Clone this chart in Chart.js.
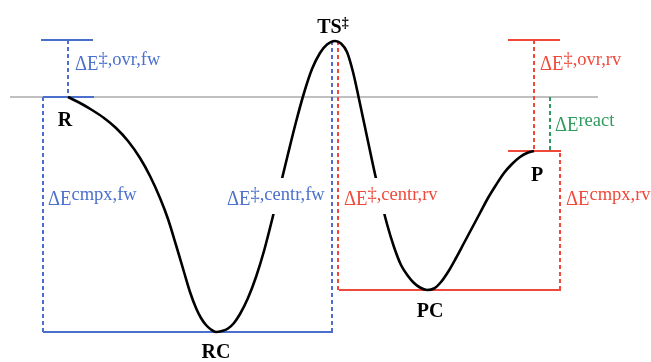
<!DOCTYPE html>
<html>
<head>
<meta charset="utf-8">
<script src="https://cdn.jsdelivr.net/npm/chart.js@4.4.1/dist/chart.umd.min.js"></script>
<style>
  html, body { margin: 0; padding: 0; background: #ffffff; }
  #wrap { width: 651px; height: 362px; position: relative; }
</style>
</head>
<body>
<div id="wrap"><canvas id="c"></canvas></div>
<script>
// ---- Data (energy in arbitrary units, R = 0; reaction coordinate in arbitrary units) ----
const stateNames = ['R', 'RC', 'TS‡', 'PC', 'P'];
const stateX = [68, 216, 335, 427, 534];
const stateE = [0, -235, 56, -193, -54];

// points read along the drawn energy profile (R -> RC -> TS -> PC -> P)
const curveX = [
  68, 80, 92, 104, 116, 128, 140, 150, 160, 168, 176, 184, 190, 196, 201, 206, 211,
  216, 222, 228, 234, 240, 248, 256, 264, 272, 280, 288, 296, 304, 312, 320, 327,
  335, 341, 347, 353, 359, 366, 373, 380, 387, 394, 401, 408, 414, 420,
  427, 434, 441, 448, 456, 464, 472, 480, 488, 496, 504, 512, 520, 527, 534
];
const curveE = [
  0, -6, -13, -21, -31, -44, -61, -79, -101, -122, -148, -175, -195, -211, -221, -228, -232.5,
  -235, -234, -231.5, -226, -217, -201, -180, -154, -123, -90, -57, -25, 4, 28, 44, 52.5,
  56, 53.5, 45, 25, -2, -35, -68, -99, -127, -150, -168, -179, -186, -190.5,
  -193, -191.5, -185, -175, -161, -146, -131, -116, -101, -88, -76, -67, -60, -56, -54
];

// energy differences shown (labels)
const deltaBase = ['ΔE', 'ΔE', 'ΔE', 'ΔE', 'ΔE', 'ΔE', 'ΔE'];
const deltaSup = ['‡,ovr,fw', 'cmpx,fw', '‡,centr,fw', '‡,centr,rv', '‡,ovr,rv', 'react', 'cmpx,rv'];

// ---- Layout / style ----
const BLUE = '#4a6fcc';
const RED = '#f0483a';
const GREEN = '#2e9a5c';
const GRAY = '#808080';
const SERIF = '"Liberation Serif", "DejaVu Serif", serif';
const DASH = [4, 3];
const MAIN_PX = 22, MAIN_SX = 0.85, SUP_PX = 18.5, SUP_RAISE = 5;

const iR = 0, iRC = 1, iTS = 2, iPC = 3, iP = 4;
const E = i => stateE[i];

// label placement (x, energy of text baseline) and style
const deltaLayout = [
  { x: 75,  e: 27,   color: BLUE,  bg: false },
  { x: 48,  e: -108, color: BLUE,  bg: false },
  { x: 227, e: -108, color: BLUE,  bg: true },
  { x: 344, e: -108, color: RED,   bg: true },
  { x: 540, e: 27,   color: RED,   bg: false },
  { x: 555, e: -34,  color: GREEN, bg: false },
  { x: 566, e: -108, color: RED,   bg: false }
];

const stateLabelOffset = [[-3, 24], [0, 21], [-2, -13], [3, 22], [3, 25]]; // px offsets of label centre

function seg(x1, e1, x2, e2, color, dashed, width) {
  return {
    data: [{ x: x1, y: e1 }, { x: x2, y: e2 }],
    showLine: true, pointRadius: 0, borderColor: color,
    borderWidth: width || 2, borderDash: dashed ? DASH : [], fill: false, tension: 0
  };
}

const datasets = [
  {
    data: curveX.map((x, i) => ({ x: x, y: curveE[i] })),
    showLine: true, pointRadius: 0, borderColor: '#000000', borderWidth: 2.6,
    cubicInterpolationMode: 'monotone', fill: false
  },
  // forward overall barrier
  seg(41, E(iTS) + 1, 93, E(iTS) + 1, BLUE, false, 2),
  seg(68, E(iTS) + 1, 68, E(iR), BLUE, true, 2),
  seg(43, E(iR), 94, E(iR), BLUE, false, 2),
  // forward complexation
  seg(43, E(iR), 43, E(iRC), BLUE, true, 2),
  seg(43, E(iRC), 333, E(iRC), BLUE, false, 2),
  // forward central barrier
  seg(332, E(iRC), 332, E(iTS) - 1, BLUE, true, 2),
  // reverse central barrier
  seg(338, E(iPC), 338, E(iTS) - 1, RED, true, 2),
  seg(339, E(iPC), 561, E(iPC), RED, false, 2),
  // reverse complexation
  seg(560, E(iPC), 560, E(iP), RED, true, 2),
  // reverse overall barrier
  seg(508, E(iTS) + 1, 560, E(iTS) + 1, RED, false, 2),
  seg(534, E(iTS) + 1, 534, E(iP), RED, true, 2),
  seg(508, E(iP), 561, E(iP), RED, false, 2),
  // reaction energy
  seg(550, E(iR), 550, E(iP), GREEN, true, 2),
  // reference level
  seg(10, E(iR), 598, E(iR), GRAY, false, 1)
];

const labelPlugin = {
  id: 'labels',
  afterDatasetsDraw(chart) {
    const ctx = chart.ctx;
    const xs = chart.scales.x, ys = chart.scales.y;
    ctx.save();
    deltaLayout.forEach((L, i) => {
      const px = xs.getPixelForValue(L.x);
      const py = ys.getPixelForValue(L.e);
      ctx.font = MAIN_PX + 'px ' + SERIF;
      const wb = ctx.measureText(deltaBase[i]).width * MAIN_SX;
      ctx.font = SUP_PX + 'px ' + SERIF;
      const ws = ctx.measureText(deltaSup[i]).width;
      if (L.bg) {
        ctx.fillStyle = '#ffffff';
        ctx.fillRect(px - 2, py - 27, wb + ws + 4, 36);
      }
      ctx.fillStyle = L.color;
      ctx.textBaseline = 'alphabetic';
      ctx.textAlign = 'left';
      ctx.save();
      ctx.translate(px, py);
      ctx.scale(MAIN_SX, 1);
      ctx.font = MAIN_PX + 'px ' + SERIF;
      ctx.fillText(deltaBase[i], 0, 0);
      ctx.restore();
      ctx.font = SUP_PX + 'px ' + SERIF;
      ctx.fillText(deltaSup[i], px + wb, py - SUP_RAISE);
    });
    stateNames.forEach((name, i) => {
      const px = xs.getPixelForValue(stateX[i]) + stateLabelOffset[i][0];
      const py = ys.getPixelForValue(stateE[i]) + stateLabelOffset[i][1];
      ctx.fillStyle = '#000000';
      ctx.textBaseline = 'middle';
      if (name.endsWith('‡')) {
        const main = name.slice(0, -1);
        ctx.font = 'bold 20px ' + SERIF;
        const wm = ctx.measureText(main).width;
        ctx.font = 'bold 14px ' + SERIF;
        const wd = ctx.measureText('‡').width;
        const left = px - (wm + wd) / 2;
        ctx.textAlign = 'left';
        ctx.font = 'bold 20px ' + SERIF;
        ctx.fillText(main, left, py);
        ctx.font = 'bold 14px ' + SERIF;
        ctx.fillText('‡', left + wm, py - 5);
      } else {
        ctx.textAlign = 'center';
        ctx.font = 'bold 20px ' + SERIF;
        ctx.fillText(name, px, py);
      }
    });
    ctx.restore();
  }
};

new Chart(document.getElementById('c'), {
  type: 'scatter',
  data: { datasets: datasets },
  options: {
    responsive: true,
    maintainAspectRatio: false,
    devicePixelRatio: 1,
    animation: false,
    layout: { padding: 0 },
    plugins: { legend: { display: false }, tooltip: { enabled: false } },
    scales: {
      x: { type: 'linear', min: 0, max: 651, display: false },
      y: { type: 'linear', min: -265, max: 97, display: false }
    }
  },
  plugins: [labelPlugin]
});
</script>
</body>
</html>
